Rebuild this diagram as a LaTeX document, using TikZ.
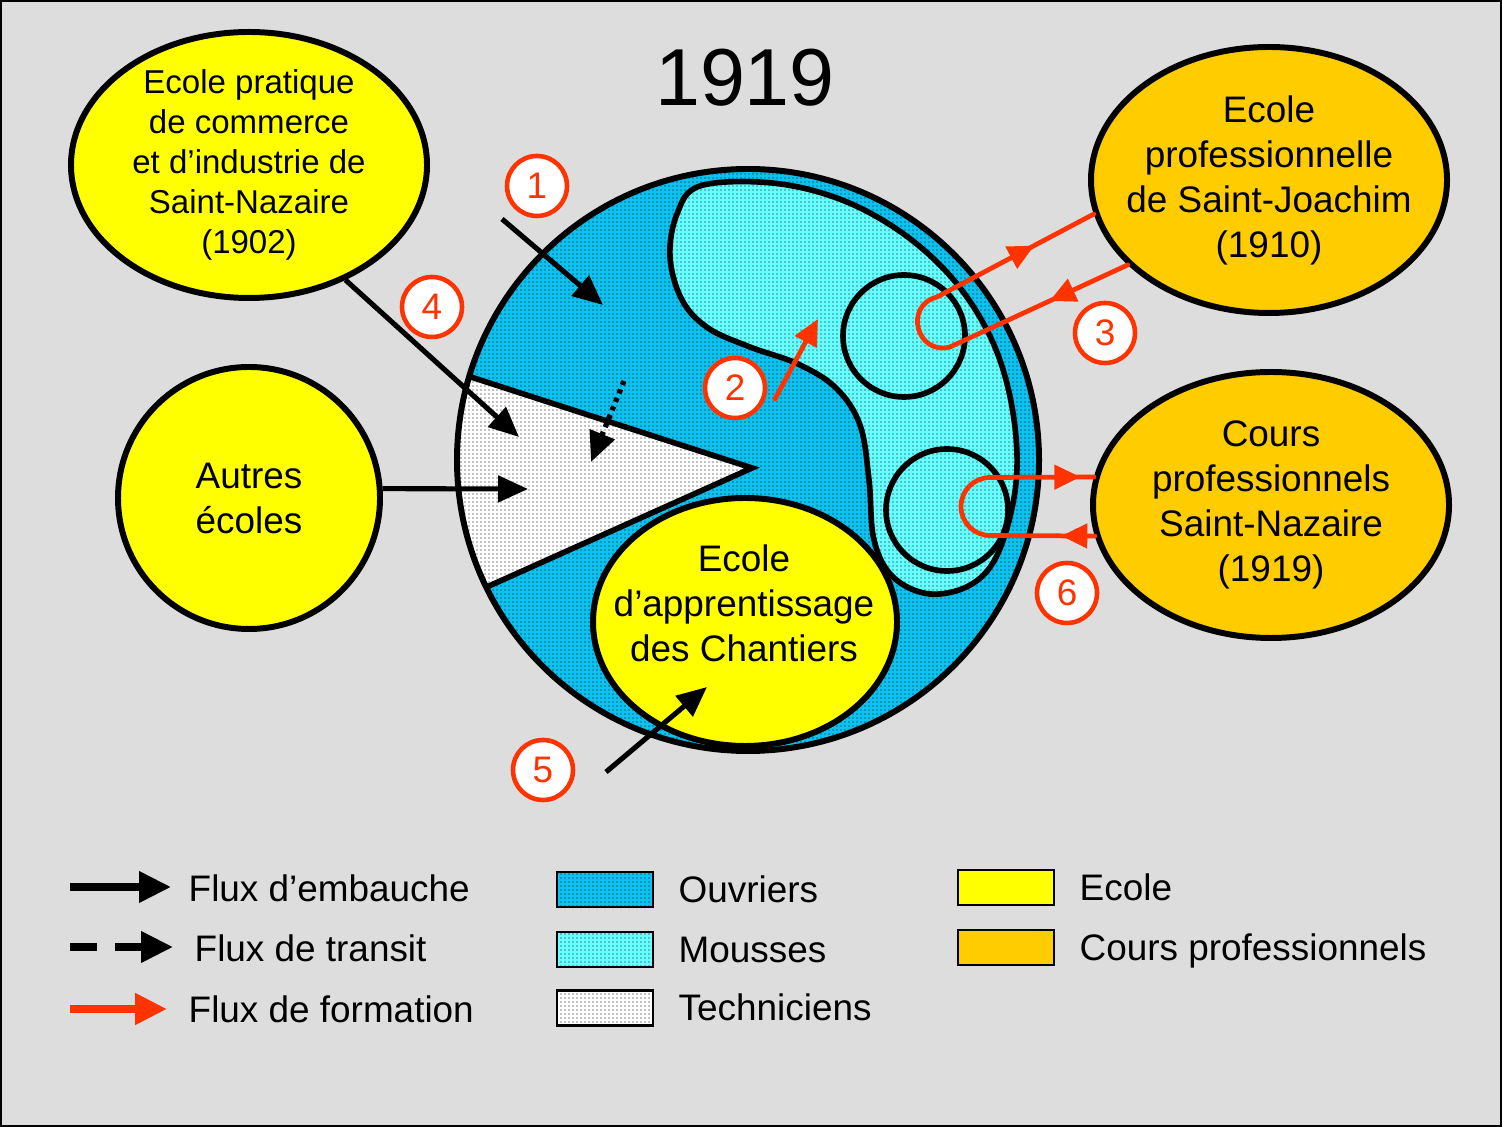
\documentclass[tikz,border=0pt]{standalone}
\usepackage{fontspec}
\setmainfont{Liberation Sans}
\usetikzlibrary{shapes.geometric,arrows.meta,patterns,decorations.markings}

\definecolor{fond}{HTML}{DDDDDD}
\definecolor{ouvrier}{HTML}{0CC2F0}
\definecolor{mousse}{HTML}{66FFFF}
\definecolor{ecole}{HTML}{FFFF00}
\definecolor{cours}{HTML}{FFCC00}
\definecolor{rouge}{HTML}{FF3300}

\pgfdeclarepatternformonly{petitspoints}{\pgfpointorigin}{\pgfpoint{0.04cm}{0.04cm}}{\pgfpoint{0.04cm}{0.04cm}}{\pgfpathcircle{\pgfpoint{0.02cm}{0.02cm}}{0.2pt}\pgfusepath{fill}}

\tikzset{
	ecolebulle/.style={ellipse, draw, line width=1.7pt, fill=ecole, inner sep=0pt},
	texte/.style={align=center, inner sep=0pt, font=\fontsize{10.5}{12.8}\selectfont},
	pointille/.style={postaction={pattern=petitspoints}},
	fleche/.style={line width=1.45pt, -{Triangle[length=3mm,width=2.6mm]}},
	formation/.style={color=rouge, line width=1.35pt, line cap=round},
	pointe/.style={postaction={decorate, decoration={markings, mark=at position #1 with {\arrow{Triangle[length=2.6mm,width=2.4mm]}}}}},
	numero/.style={circle, draw=rouge, line width=1.3pt, fill=white, text=rouge, minimum size=6mm, inner sep=0pt, font=\fontsize{10.5}{12}\selectfont},
	caseleg/.style={draw, line width=0.8pt, minimum width=9.6mm, minimum height=3.5mm, inner sep=0pt},
	legende/.style={anchor=base west, inner sep=0pt, font=\fontsize{10.5}{12}\selectfont}
}

\begin{document}
\begin{tikzpicture}
			%%%%% FOND %%%%%
			\useasboundingbox (0,0) rectangle (15.02,-11.27);
			\fill[fond] (0,0) rectangle (15.02,-11.27);
			\draw[line width=1.2pt] (0,0) rectangle (15.02,-11.27);
			
			\node[font=\fontsize{23}{28}\selectfont] (titre) at (7.45,-0.78) {1919};
			
			%%%%% ECOLES %%%%%
			\node[ecolebulle, minimum width=3.56cm, minimum height=2.66cm] (ecoleSN) at (2.49,-1.65) {};
			\node[texte, font=\fontsize{9.4}{11.4}\selectfont] (tSN) at (ecoleSN) {Ecole pratique\\de commerce\\et d’industrie de\\Saint-Nazaire\\(1902)};
			
			\node[circle, draw, line width=1.7pt, fill=ecole, minimum size=2.62cm, inner sep=0pt] (autres) at (2.49,-4.98) {};
			\node[texte] (tAutres) at (autres) {Autres\\écoles};
			
			\node[ecolebulle, fill=cours, minimum width=3.56cm, minimum height=2.66cm] (stJoachim) at (12.69,-1.80) {};
			\node[texte] (tJoachim) at (stJoachim) {Ecole\\professionnelle\\de Saint-Joachim\\(1910)};
			
			\node[ecolebulle, fill=cours, minimum width=3.56cm, minimum height=2.66cm] (coursPro) at (12.71,-5.05) {};
			\node[texte] (tCours) at (coursPro) {Cours\\professionnels\\Saint-Nazaire\\(1919)};
			
			%%%%% CHANTIER %%%%%
			\fill[ouvrier, pointille] (7.48,-4.60) circle (2.91);
			
			\begin{scope}
				\clip (7.48,-4.60) circle (2.91);
				\fill[white, pointille] (4.40,-3.67) -- (7.52,-4.68) -- (4.40,-6.08) -- cycle;
				\draw[line width=1.6pt] (4.40,-3.67) -- (7.52,-4.68) -- (4.40,-6.08);
			\end{scope}
			
			\draw[line width=1.6pt, fill=mousse, pointille] plot[smooth cycle, tension=0.6] coordinates {(7.00,-1.86) (7.72,-1.83) (8.42,-2.00) (9.05,-2.35) (9.57,-2.84) (9.94,-3.45) (10.13,-4.13) (10.16,-4.83) (9.99,-5.51) (9.72,-5.84) (9.30,-5.94) (8.93,-5.77) (8.74,-5.40) (8.69,-4.80) (8.60,-4.25) (8.36,-3.88) (7.98,-3.64) (7.50,-3.47) (7.08,-3.28) (6.82,-3.00) (6.70,-2.57) (6.77,-2.14)};
			
			\node[circle, draw, line width=1.6pt, fill=mousse, pointille, minimum size=1.22cm, inner sep=0pt] (m1) at (9.04,-3.36) {};
			\node[circle, draw, line width=1.6pt, fill=mousse, pointille, minimum size=1.22cm, inner sep=0pt] (m2) at (9.47,-5.10) {};
			
			\node[ecolebulle, minimum width=3.04cm, minimum height=2.48cm] (apprent) at (7.45,-6.22) {};
			\node[texte] (tApprent) at (7.44,-6.03) {Ecole\\d’apprentissage\\des Chantiers};
			
			\node[circle, draw, line width=1.7pt, minimum size=5.82cm, inner sep=0pt] (cercle) at (7.48,-4.60) {};
			
			%%%%% FLUX %%%%%
			\coordinate (a1) at (5.02,-2.19);
			\coordinate (b1) at (6.03,-3.05);
			\coordinate (b4) at (5.19,-4.37);
			\coordinate (bA) at (5.28,-4.89);
			\coordinate (a5) at (6.06,-7.72);
			\coordinate (b5) at (7.07,-6.87);
			\coordinate (aT) at (6.24,-3.81);
			\coordinate (bT) at (5.91,-4.62);
			\coordinate (a2) at (7.75,-3.99);
			\coordinate (b2) at (8.18,-3.19);
			
			\draw[fleche] (a1) -- (b1);
			\draw[fleche] (ecoleSN.-50) -- (b4);
			\draw[fleche] (autres.4) -- (bA);
			\draw[fleche] (a5) -- (b5);
			\draw[line width=1.5pt, dash pattern=on 1.2pt off 1.4pt, -{Triangle[length=3mm,width=2.6mm]}] (aT) -- (bT);
			\draw[formation, -{Triangle[length=2.6mm,width=2.4mm]}] (a2) -- (b2);
			
			% boucle 3
			\coordinate (p31) at (9.50,-3.47);
			\coordinate (p32) at (9.37,-2.97);
			\draw[formation, pointe=0.44] (stJoachim.211) -- (p31);
			\draw[formation] (p31) .. controls (9.165,-3.556) and (9.035,-3.056) .. (p32);
			\draw[formation, pointe=0.62] (p32) -- (stJoachim.191);
			
			% boucle 6
			\coordinate (p61) at (9.90,-4.775);
			\coordinate (p62) at (9.90,-5.355);
			\draw[formation] (p61) arc[start angle=90, end angle=270, radius=0.29];
			\draw[formation, pointe=0.87] (p61) -- (coursPro.171);
			\draw[formation, pointe=0.32] (coursPro.190) -- (p62);
			
			\node[numero] (n1) at (5.37,-1.86) {1};
			\node[numero] (n2) at (7.35,-3.88) {2};
			\node[numero] (n3) at (11.05,-3.33) {3};
			\node[numero] (n4) at (4.32,-3.07) {4};
			\node[numero] (n5) at (5.43,-7.70) {5};
			\node[numero] (n6) at (10.67,-5.93) {6};
			
			%%%%% LEGENDE %%%%%
			\coordinate (l1a) at (0.70,-8.87);
			\coordinate (l1b) at (1.71,-8.87);
			\coordinate (l2a) at (0.70,-9.47);
			\coordinate (l2b) at (1.73,-9.47);
			\coordinate (l3a) at (0.70,-10.09);
			\coordinate (l3b) at (1.67,-10.09);
			\draw[line width=2pt, -{Triangle[length=3.2mm,width=3mm]}] (l1a) -- (l1b);
			\draw[line width=2pt, dash pattern=on 7.7pt off 5.1pt, -{Triangle[length=3.2mm,width=3mm]}] (l2a) -- (l2b);
			\draw[rouge, line width=2.2pt, -{Triangle[length=3.2mm,width=3mm]}] (l3a) -- (l3b);
			\node[legende] (tl1) at (1.88,-9.01) {Flux d’embauche};
			\node[legende] (tl2) at (1.94,-9.61) {Flux de transit};
			\node[legende] (tl3) at (1.88,-10.22) {Flux de formation};
			
			\node[caseleg, fill=ouvrier, pointille] (cOuv) at (6.05,-8.895) {};
			\node[caseleg, fill=mousse, pointille] (cMou) at (6.05,-9.495) {};
			\node[caseleg, fill=white, pointille] (cTec) at (6.05,-10.08) {};
			\node[legende] (tOuv) at (6.78,-9.02) {Ouvriers};
			\node[legende] (tMou) at (6.78,-9.62) {Mousses};
			\node[legende] (tTec) at (6.78,-10.20) {Techniciens};
			
			\node[caseleg, fill=ecole] (cEco) at (10.06,-8.875) {};
			\node[caseleg, fill=cours] (cCou) at (10.06,-9.475) {};
			\node[legende] (tEco) at (10.79,-9.00) {Ecole};
			\node[legende] (tCou) at (10.79,-9.60) {Cours professionnels};
			
\end{tikzpicture}
\end{document}
